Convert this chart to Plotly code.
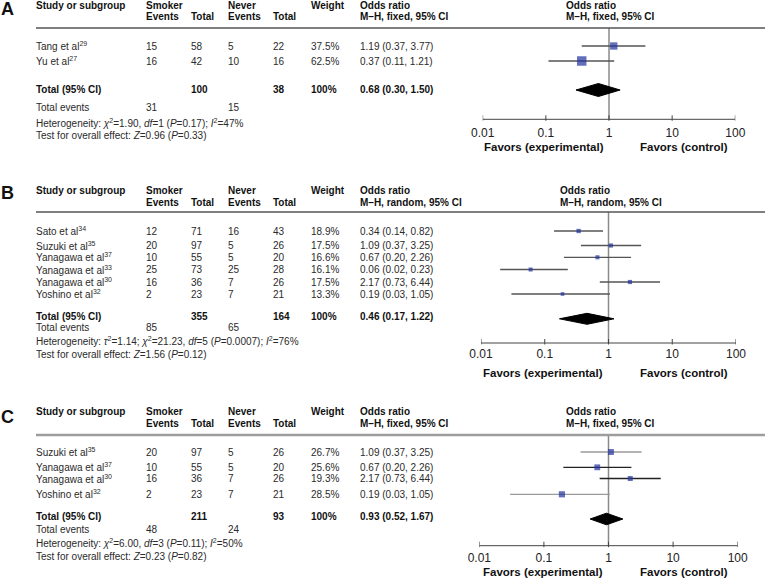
import plotly.graph_objects as go

W, H = 765, 584

# ------------------------- data -------------------------
tick_vals = [0.01, 0.1, 1, 10, 100]
tick_labels = ["0.01", "0.1", "1", "10", "100"]

# Panel A
A_studies = ["Tang et al<sup>29</sup>", "Yu et al<sup>27</sup>"]
A_smk_events = [15, 16]
A_smk_total = [58, 42]
A_nev_events = [5, 10]
A_nev_total = [22, 16]
A_weight = [37.5, 62.5]
A_or = [1.19, 0.37]
A_lo = [0.37, 0.11]
A_hi = [3.77, 1.21]
A_totals = [100, 38]
A_total_events = [31, 15]
A_pooled = [0.68, 0.30, 1.50]
A_method = "M–H, fixed, 95% CI"
A_het = "Heterogeneity: <i>χ</i><sup>2</sup>=1.90, <i>df</i>=1 (<i>P</i>=0.17); <i>I</i><sup>2</sup>=47%"
A_test = "Test for overall effect: <i>Z</i>=0.96 (<i>P</i>=0.33)"

# Panel B
B_studies = ["Sato et al<sup>34</sup>", "Suzuki et al<sup>35</sup>", "Yanagawa et al<sup>37</sup>",
             "Yanagawa et al<sup>33</sup>", "Yanagawa et al<sup>30</sup>", "Yoshino et al<sup>32</sup>"]
B_smk_events = [12, 20, 10, 25, 16, 2]
B_smk_total = [71, 97, 55, 73, 36, 23]
B_nev_events = [16, 5, 5, 25, 7, 7]
B_nev_total = [43, 26, 20, 28, 26, 21]
B_weight = [18.9, 17.5, 16.6, 16.1, 17.5, 13.3]
B_or = [0.34, 1.09, 0.67, 0.06, 2.17, 0.19]
B_lo = [0.14, 0.37, 0.20, 0.02, 0.73, 0.03]
B_hi = [0.82, 3.25, 2.26, 0.23, 6.44, 1.05]
B_totals = [355, 164]
B_total_events = [85, 65]
B_pooled = [0.46, 0.17, 1.22]
B_method = "M–H, random, 95% CI"
B_het = ("Heterogeneity: <i>τ</i><sup>2</sup>=1.14; <i>χ</i><sup>2</sup>=21.23, <i>df</i>=5 "
         "(<i>P</i>=0.0007); <i>I</i><sup>2</sup>=76%")
B_test = "Test for overall effect: <i>Z</i>=1.56 (<i>P</i>=0.12)"

# Panel C
C_studies = ["Suzuki et al<sup>35</sup>", "Yanagawa et al<sup>37</sup>",
             "Yanagawa et al<sup>30</sup>", "Yoshino et al<sup>32</sup>"]
C_smk_events = [20, 10, 16, 2]
C_smk_total = [97, 55, 36, 23]
C_nev_events = [5, 5, 7, 7]
C_nev_total = [26, 20, 26, 21]
C_weight = [26.7, 25.6, 19.3, 28.5]
C_or = [1.09, 0.67, 2.17, 0.19]
C_lo = [0.37, 0.20, 0.73, 0.03]
C_hi = [3.25, 2.26, 6.44, 1.05]
C_totals = [211, 93]
C_total_events = [48, 24]
C_pooled = [0.93, 0.52, 1.67]
C_method = "M–H, fixed, 95% CI"
C_het = "Heterogeneity: <i>χ</i><sup>2</sup>=6.00, <i>df</i>=3 (<i>P</i>=0.11); <i>I</i><sup>2</sup>=50%"
C_test = "Test for overall effect: <i>Z</i>=0.23 (<i>P</i>=0.82)"

# ------------------------- layout / style -------------------------
FONT = "Liberation Sans, Arial, Helvetica, sans-serif"
TXT = "#2a2a2a"
BLUE = "#2232a0"

COL_X = dict(study=36, se=146, st=191, ne=228, nt=273, w=311, orr=360)

panels = [
    dict(letter="A", studies=A_studies, se=A_smk_events, st=A_smk_total, ne=A_nev_events,
         nt=A_nev_total, w=A_weight, orv=A_or, lo=A_lo, hi=A_hi, totals=A_totals,
         tev=A_total_events, pooled=A_pooled, method=A_method, het=A_het, test=A_test,
         letter_y=8.5, hdr_y=(5, 16.5), line_y=28, rows_y=[46, 61], total_y=89, events_y=107.5,
         het_y=122.5, test_y=135.5, axis_y=119.3, ticklab_y=133.5, favors_y=147,
         xdom=(482.7, 735.3), rhdr_x=565.5, dia_h=6.5, dia_dy=1, sq_k=1.2,
         ci_col=["#555555", "#555555"], hline_col="#555555", hline_w=1.5),
    dict(letter="B", studies=B_studies, se=B_smk_events, st=B_smk_total, ne=B_nev_events,
         nt=B_nev_total, w=B_weight, orv=B_or, lo=B_lo, hi=B_hi, totals=B_totals,
         tev=B_total_events, pooled=B_pooled, method=B_method, het=B_het, test=B_test,
         letter_y=193, hdr_y=(190, 202), line_y=212, rows_y=[231, 245.5, 257.3, 269.5, 282, 294],
         total_y=316.3, events_y=327.3, het_y=341.3, test_y=354.3, axis_y=343,
         ticklab_y=354.5, favors_y=373.3,
         xdom=(481, 736), rhdr_x=560, dia_h=5.5, dia_dy=2.5, sq_k=1.0,
         ci_col=["#555555"] * 6, hline_col="#555555", hline_w=1.3),
    dict(letter="C", studies=C_studies, se=C_smk_events, st=C_smk_total, ne=C_nev_events,
         nt=C_nev_total, w=C_weight, orv=C_or, lo=C_lo, hi=C_hi, totals=C_totals,
         tev=C_total_events, pooled=C_pooled, method=C_method, het=C_het, test=C_test,
         letter_y=416.5, hdr_y=(411.7, 423.3), line_y=435, rows_y=[452, 467.3, 478.5, 494.3],
         total_y=516.7, events_y=529, het_y=543.3, test_y=556, axis_y=545.7,
         ticklab_y=559, favors_y=571.7,
         xdom=(479.3, 737.7), rhdr_x=565.5, dia_h=5.8, dia_dy=2.3, sq_k=1.15,
         ci_col=["#9a9a9a", "#222222", "#222222", "#9a9a9a"], hline_col="#9d9d9d", hline_w=2.5),
]

fig = go.Figure()
annotations = []


def txt(x, y, s, size=10, bold=False, anchor="left", color=TXT):
    annotations.append(dict(
        x=x, y=y, xref="x4", yref="y", text=("<b>%s</b>" % s) if bold else s,
        showarrow=False, xanchor=anchor, yanchor="middle", borderpad=0, borderwidth=0,
        font=dict(family=FONT, size=size, color=color)))


for i, p in enumerate(panels):
    xa = "x" if i == 0 else "x%d" % (i + 1)
    # ---- table ----
    txt(1, p["letter_y"], p["letter"], size=18, bold=True, color="#111")
    h1, h2 = p["hdr_y"]
    txt(COL_X["study"], h1, "Study or subgroup", bold=True, color="#111")
    txt(COL_X["se"], h1, "Smoker", bold=True, color="#111")
    txt(COL_X["se"], h2, "Events", bold=True, color="#111")
    txt(COL_X["st"], h2, "Total", bold=True, color="#111")
    txt(COL_X["ne"], h1, "Never", bold=True, color="#111")
    txt(COL_X["ne"], h2, "Events", bold=True, color="#111")
    txt(COL_X["nt"], h2, "Total", bold=True, color="#111")
    txt(COL_X["w"], h1, "Weight", bold=True, color="#111")
    txt(COL_X["orr"], h1, "Odds ratio", bold=True, color="#111")
    txt(COL_X["orr"], h2, p["method"], bold=True, color="#111")
    txt(p["rhdr_x"], h1, "Odds ratio", bold=True, color="#111")
    txt(p["rhdr_x"], h2, p["method"], bold=True, color="#111")

    for j, y in enumerate(p["rows_y"]):
        txt(COL_X["study"], y, p["studies"][j])
        txt(COL_X["se"], y, str(p["se"][j]))
        txt(COL_X["st"], y, str(p["st"][j]))
        txt(COL_X["ne"], y, str(p["ne"][j]))
        txt(COL_X["nt"], y, str(p["nt"][j]))
        txt(COL_X["w"], y, "%.1f%%" % p["w"][j])
        txt(COL_X["orr"], y, "%.2f (%.2f, %.2f)" % (p["orv"][j], p["lo"][j], p["hi"][j]))

    ty = p["total_y"]
    txt(COL_X["study"], ty, "Total (95% CI)", bold=True, color="#111")
    txt(COL_X["st"], ty, str(p["totals"][0]), bold=True, color="#111")
    txt(COL_X["nt"], ty, str(p["totals"][1]), bold=True, color="#111")
    txt(COL_X["w"], ty, "100%", bold=True, color="#111")
    txt(COL_X["orr"], ty, "%.2f (%.2f, %.2f)" % tuple(p["pooled"]), bold=True, color="#111")
    ey = p["events_y"]
    txt(COL_X["study"], ey, "Total events")
    txt(COL_X["se"], ey, str(p["tev"][0]))
    txt(COL_X["ne"], ey, str(p["tev"][1]))
    txt(COL_X["study"], p["het_y"], p["het"])
    txt(COL_X["study"], p["test_y"], p["test"])

    # header rule
    fig.add_trace(go.Scatter(x=[36, 765], y=[p["line_y"]] * 2, xaxis="x4", yaxis="y",
                             mode="lines", line=dict(color=p["hline_col"], width=p["hline_w"]),
                             hoverinfo="skip", showlegend=False))

    # favors labels
    x1px = p["xdom"][0] + (p["xdom"][1] - p["xdom"][0]) / 2.0
    txt(x1px - 5.5, p["favors_y"], "Favors (experimental)", size=11.5, bold=True, anchor="right", color="#111")
    txt(x1px + 31, p["favors_y"], "Favors (control)", size=11.5, bold=True, anchor="left", color="#111")

    # ---- forest plot ----
    fig.add_trace(go.Scatter(x=[1, 1], y=[p["line_y"], p["axis_y"]], xaxis=xa, yaxis="y",
                             mode="lines", line=dict(color="#8a8a8a", width=1.5),
                             hoverinfo="skip", showlegend=False, cliponaxis=False))
    for j, y in enumerate(p["rows_y"]):
        fig.add_trace(go.Scatter(x=[p["lo"][j], p["hi"][j]], y=[y, y], xaxis=xa, yaxis="y",
                                 mode="lines", line=dict(color=p["ci_col"][j], width=1.3),
                                 hoverinfo="skip", showlegend=False, cliponaxis=False))
    sizes = [p["sq_k"] * (w ** 0.5) for w in p["w"]]
    fig.add_trace(go.Scatter(x=p["orv"], y=p["rows_y"], xaxis=xa, yaxis="y", mode="markers",
                             marker=dict(symbol="square", size=sizes, color=BLUE,
                                         line=dict(width=0)),
                             hoverinfo="skip", showlegend=False, cliponaxis=False))
    est, lo, hi = p["pooled"]
    dy = p["total_y"] + p["dia_dy"]
    hh = p["dia_h"]
    fig.add_trace(go.Scatter(x=[lo, est, hi, est, lo], y=[dy, dy - hh, dy, dy + hh, dy],
                             xaxis=xa, yaxis="y", mode="lines", fill="toself",
                             fillcolor="#000000", line=dict(color="#000000", width=1),
                             hoverinfo="skip", showlegend=False, cliponaxis=False))
    ay = p["axis_y"]
    fig.add_trace(go.Scatter(x=[tick_vals[0], tick_vals[-1]], y=[ay, ay], xaxis=xa, yaxis="y",
                             mode="lines", line=dict(color="#444444", width=1),
                             hoverinfo="skip", showlegend=False, cliponaxis=False))
    tx, tyy = [], []
    for v in tick_vals:
        tx += [v, v, None]
        tyy += [ay - 4, ay + 1.5, None]
    fig.add_trace(go.Scatter(x=tx, y=tyy, xaxis=xa, yaxis="y", mode="lines",
                             line=dict(color="#444444", width=1),
                             hoverinfo="skip", showlegend=False, cliponaxis=False))
    fig.add_trace(go.Scatter(x=tick_vals, y=[p["ticklab_y"]] * len(tick_vals), xaxis=xa, yaxis="y",
                             mode="text", text=tick_labels, textposition="middle center",
                             textfont=dict(family=FONT, size=12, color="#222"),
                             hoverinfo="skip", showlegend=False, cliponaxis=False))

layout = dict(
    width=W, height=H, margin=dict(l=0, r=0, t=0, b=0),
    paper_bgcolor="white", plot_bgcolor="rgba(0,0,0,0)",
    showlegend=False, annotations=annotations,
    yaxis=dict(range=[H, 0], domain=[0, 1], visible=False, fixedrange=True),
    xaxis4=dict(range=[0, W], domain=[0, 1], visible=False, anchor="y", fixedrange=True),
)
for i, p in enumerate(panels):
    key = "xaxis" if i == 0 else "xaxis%d" % (i + 1)
    layout[key] = dict(type="log", range=[-2, 2], domain=[p["xdom"][0] / W, p["xdom"][1] / W],
                       visible=False, anchor="y", fixedrange=True)

fig.update_layout(**layout)
fig.write_html("out.html", config={"displayModeBar": False, "staticPlot": True},
               post_script="document.body.style.margin='0';document.body.style.padding='0';"
                           "document.body.style.overflow='hidden';")
